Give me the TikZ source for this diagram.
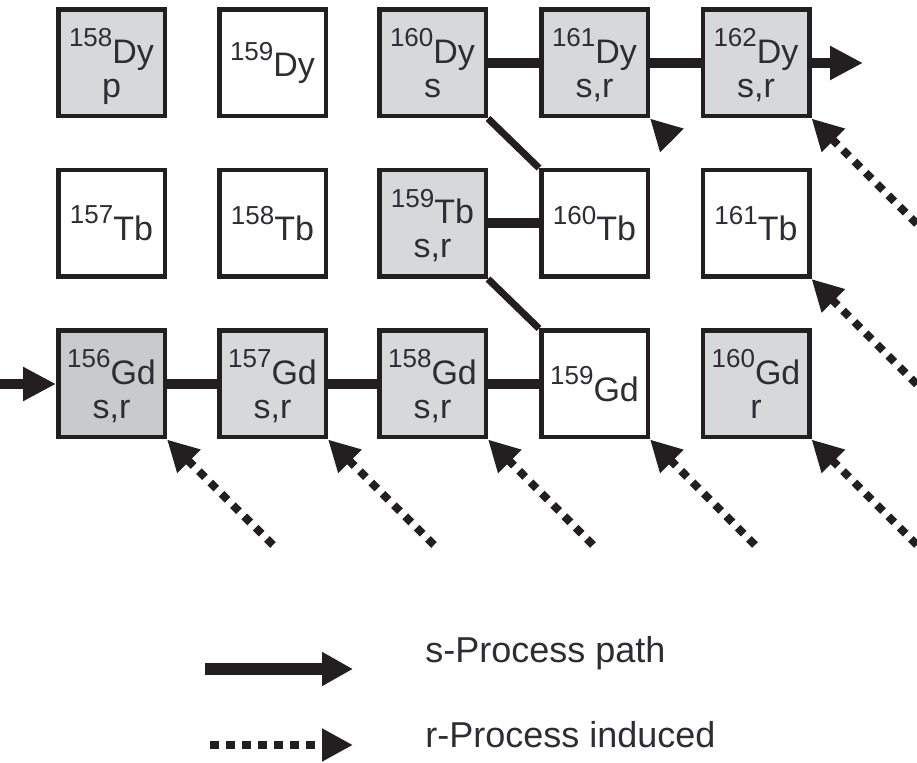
\documentclass[tikz,border=0pt]{standalone}
\usepackage{fontspec}
\setmainfont{Liberation Sans}
\usetikzlibrary{arrows.meta}

\definecolor{boxgray}{RGB}{215,216,218}
\definecolor{boxdark}{RGB}{201,202,204}
\definecolor{ink}{RGB}{35,31,32}
\definecolor{inktext}{RGB}{45,45,52}

% mass number as superscript
\newcommand{\iso}[2]{{\fontsize{13}{13}\selectfont\raisebox{8.3pt}{#1}}#2}
% second line without depth
\newcommand{\lowline}[1]{\raisebox{0pt}[\height][0pt]{#1}}

\tikzset{
    nuc/.style={rectangle, draw=ink, line width=2.25pt, minimum size=53.25pt,
        inner sep=0pt, align=center, text=inktext, fill=white,
        font=\fontsize{17}{17}\selectfont},
    spath/.style={draw=ink, line width=5pt},
    dpath/.style={draw=ink, line width=3.5pt},
    rpath/.style={draw=ink, line width=4pt, dash pattern=on 4.25pt off 3.75pt,
        -{Triangle[length=15.5pt, width=15.5pt]}},
    legtext/.style={text=inktext, font=\fontsize{18}{18}\selectfont, inner sep=0pt}
}

\begin{document}
\begin{tikzpicture}[x=0.5pt, y=-0.5pt]
        \useasboundingbox (0,0) rectangle (917,763);

        % Dy row
        \node[nuc, fill=boxgray] (dy158) at (111.5,63) {\iso{158}{Dy}\\\lowline{p}};
        \node[nuc] (dy159) at (272.5,63) {\iso{159}{Dy}};
        \node[nuc, fill=boxgray] (dy160) at (432.5,63) {\iso{160}{Dy}\\\lowline{s}};
        \node[nuc, fill=boxgray] (dy161) at (594.5,63) {\iso{161}{Dy}\\\lowline{s,r}};
        \node[nuc, fill=boxgray] (dy162) at (756,63) {\iso{162}{Dy}\\\lowline{s,r}};

        % Tb row
        \node[nuc] (tb157) at (111.5,223.5) {\iso{157}{Tb}};
        \node[nuc] (tb158) at (272.5,223.5) {\iso{158}{Tb}};
        \node[nuc, fill=boxgray] (tb159) at (432.5,223.5) {\iso{159}{Tb}\\\lowline{s,r}};
        \node[nuc] (tb160) at (594.5,223.5) {\iso{160}{Tb}};
        \node[nuc] (tb161) at (756,223.5) {\iso{161}{Tb}};

        % Gd row
        \node[nuc, fill=boxdark] (gd156) at (111.5,384) {\iso{156}{Gd}\\\lowline{s,r}};
        \node[nuc, fill=boxgray] (gd157) at (272.5,384) {\iso{157}{Gd}\\\lowline{s,r}};
        \node[nuc, fill=boxgray] (gd158) at (432.5,384) {\iso{158}{Gd}\\\lowline{s,r}};
        \node[nuc] (gd159) at (594.5,384) {\iso{159}{Gd}};
        \node[nuc, fill=boxgray] (gd160) at (756,384) {\iso{160}{Gd}\\\lowline{r}};

        % s-process path
        \coordinate (gdin) at (0,384);
        \coordinate (dyout) at (863,63);
        \draw[spath, -{Triangle[length=16.5pt, width=16pt]}] (gdin) -- (gd156);
        \draw[spath] (gd156) -- (gd157);
        \draw[spath] (gd157) -- (gd158);
        \draw[spath] (gd158) -- (gd159);
        \draw[dpath] (tb159.south east) -- (gd159.north west);
        \draw[spath] (tb159) -- (tb160);
        \draw[dpath] (dy160.south east) -- (tb160.north west);
        \draw[spath] (dy160) -- (dy161);
        \draw[spath] (dy161) -- (dy162);
        \draw[spath, -{Triangle[length=16.5pt, width=16pt]}] (dy162) -- (dyout);

        % r-process feeding
        \foreach \n/\x/\y in {gd156/273/545, gd157/434/545, gd158/593/545,
                gd159/755/545, gd160/917/545, tb161/917/384.5, dy162/917/224} {
            \coordinate (r\n) at (\x,\y);
            \draw[rpath] (r\n) -- (\n.south east);
        }
        \coordinate (rdy161) at (672,140.5);
        \draw[rpath] (rdy161) -- (dy161.south east);

        % Legend
        \coordinate (ls0) at (205,669);
        \coordinate (ls1) at (353,669);
        \draw[spath, line width=6pt, -{Triangle[length=15.5pt, width=16pt]}] (ls0) -- (ls1);
        \node[legtext, anchor=base west] (lspath) at (425,663) {s-Process path};
        \coordinate (lr0) at (210,745);
        \coordinate (lr1) at (353,745);
        \draw[rpath] (lr0) -- (lr1);
        \node[legtext, anchor=base west] (lrpath) at (425,748) {r-Process induced};
    \end{tikzpicture}
\end{document}
